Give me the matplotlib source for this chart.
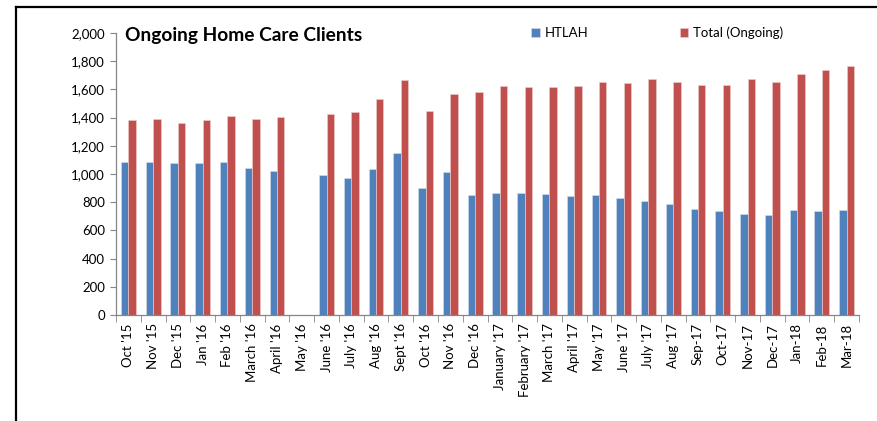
import matplotlib.pyplot as plt
import matplotlib.lines as mlines
import matplotlib.ticker as mticker
import numpy as np

months = ["Oct '15", "Nov '15", "Dec '15", "Jan '16", "Feb '16", "March '16",
          "April '16", "May '16", "June '16", "July '16", "Aug '16", "Sept '16",
          "Oct '16", "Nov '16", "Dec '16", "January '17", "February '17",
          "March '17", "April '17", "May '17", "June '17", "July '17", "Aug '17",
          "Sep-17", "Oct-17", "Nov-17", "Dec-17", "Jan-18", "Feb-18", "Mar-18"]

htlah = [1085, 1083, 1078, 1076, 1085, 1040, 1021, np.nan, 991, 974, 1035, 1147,
         898, 1014, 851, 865, 863, 861, 846, 851, 830, 809, 787, 754, 735, 716,
         711, 747, 735, 745]

total = [1383, 1388, 1359, 1381, 1411, 1388, 1402, np.nan, 1426, 1437, 1532, 1667,
         1445, 1565, 1579, 1624, 1617, 1617, 1622, 1652, 1643, 1671, 1650, 1633,
         1633, 1674, 1655, 1709, 1735, 1766]

blue = "#4F81BD"
red = "#C0504D"
grey = "#868686"

plt.rcParams['font.family'] = ['Lato', 'DejaVu Sans']

fig = plt.figure(figsize=(8.77, 4.21), dpi=100)
ax = fig.add_axes([116 / 877, 1 - 315 / 421, 743 / 877, 282 / 421])

x = np.arange(len(months))
ax.bar(x - 0.15, htlah, width=0.3, color=blue, edgecolor="#D5E0EE",
       linewidth=0.4, label="HTLAH")
ax.bar(x + 0.15, total, width=0.3, color=red, edgecolor="#EFCFCE",
       linewidth=0.4, label="Total (Ongoing)")

ax.set_xlim(-0.5, len(months) - 0.5)
ax.set_ylim(0, 2000)
ax.yaxis.set_major_locator(mticker.MultipleLocator(200))
ax.yaxis.set_major_formatter(mticker.FuncFormatter(lambda v, p: f"{int(v):,}"))

ax.set_xticks(x)
ax.set_xticklabels(months, rotation=90, fontsize=9.5)
ax.set_xticks(np.arange(-0.5, len(months)), minor=True)
ax.tick_params(axis="x", which="major", length=0, pad=6)
ax.tick_params(axis="x", which="minor", length=5, color=grey)
ax.tick_params(axis="y", length=4, color=grey, labelsize=9.5, pad=4)

for side in ["top", "right"]:
    ax.spines[side].set_visible(False)
for side in ["left", "bottom"]:
    ax.spines[side].set_color(grey)
    ax.spines[side].set_linewidth(0.9)

fig.text(125 / 877, 1 - 36 / 421, "Ongoing Home Care Clients", fontsize=13.8,
         fontweight="bold", va="center", ha="left")

ax.legend(loc="center left", bbox_to_anchor=(531 / 877, 1 - 33 / 421),
          bbox_transform=fig.transFigure, ncol=2, frameon=False, fontsize=9.5,
          handlelength=0.65, handleheight=0.65, handletextpad=0.4,
          columnspacing=6.9, borderpad=0, borderaxespad=0)

# frame lines of the original chart box
fig.add_artist(mlines.Line2D([16 / 877, 1], [1 - 7 / 421, 1 - 7 / 421],
                             color="black", linewidth=1.6,
                             transform=fig.transFigure))
fig.add_artist(mlines.Line2D([16 / 877, 16 / 877], [0, 1 - 7 / 421],
                             color="black", linewidth=1.6,
                             transform=fig.transFigure))

fig.savefig("out.png", dpi=100)
